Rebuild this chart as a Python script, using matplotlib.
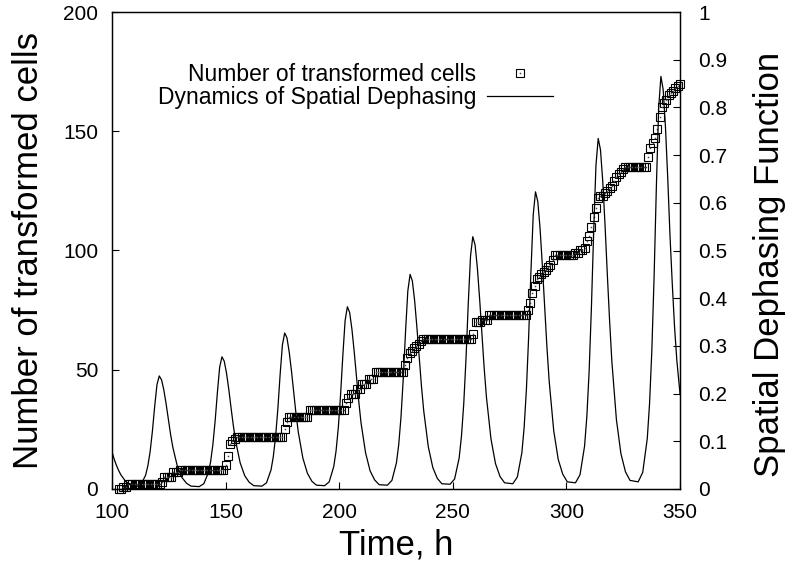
import numpy as np
import matplotlib
matplotlib.use('Agg')
import matplotlib.pyplot as plt
from matplotlib.legend_handler import HandlerTuple

plt.rcParams['font.family'] = ['Liberation Sans', 'DejaVu Sans']

# hourly counts of transformed cells, t = 103 ... 350 h
hours = np.arange(103, 351)
cells = ([0]*2 + [1]*2 + [2]*15 +
         [3] + [5]*4 + [7]*3 + [8]*20 +
         [10, 14, 19, 20, 21] + [22]*21 +
         [25, 28] + [30]*9 + [33]*16 +
         [36, 38, 40, 40, 40, 42, 42, 44, 44, 44, 46, 46, 46] + [49]*13 +
         [52, 55, 57, 58, 59, 60, 61, 62] +
         [63]*22 +
         [65, 70, 70, 70, 71, 71, 71] + [73]*17 +
         [75, 78, 82, 85, 88, 89, 90, 91, 92, 93, 94, 96] + [98]*9 +
         [99, 99, 100, 100, 101, 104, 106, 110, 114, 118, 122, 123, 123,
          124, 125, 126, 127, 129, 131, 132, 133, 134] +
         [135]*10 +
         [139, 143, 145, 147, 151, 156, 160, 162, 163, 165, 166, 167, 168, 169, 170])

# spatial dephasing function (right axis)
phase_t = [100, 101, 102, 103, 104, 106, 108,
           110.8, 112.8, 114.8, 115.8, 116.8, 117.8, 118.8, 119.8, 120.8, 121.8,
           122.8, 123.8, 124.8, 125.8, 126.8, 128.8, 130.8, 132.8, 134.8,
           138.4, 140.4, 142.4, 143.4, 144.4, 145.4, 146.4, 147.4, 148.4, 149.4,
           150.4, 151.4, 152.4, 153.4, 154.4, 156.4, 158.4, 160.4, 162.4,
           166, 168, 170, 171, 172, 173, 174, 175, 176, 177,
           178, 179, 180, 181, 182, 184, 186, 188, 190,
           193.6, 195.6, 197.6, 198.6, 199.6, 200.6, 201.6, 202.6, 203.6, 204.6,
           205.6, 206.6, 207.6, 208.6, 209.6, 211.6, 213.6, 215.6, 217.6,
           221.2, 223.2, 225.2, 226.2, 227.2, 228.2, 229.2, 230.2, 231.2, 232.2,
           233.2, 234.2, 235.2, 236.2, 237.2, 239.2, 241.2, 243.2, 245.2,
           248.8, 250.8, 252.8, 253.8, 254.8, 255.8, 256.8, 257.8, 258.8, 259.8,
           260.8, 261.8, 262.8, 263.8, 264.8, 266.8, 268.8, 270.8, 272.8,
           276.4, 278.4, 280.4, 281.4, 282.4, 283.4, 284.4, 285.4, 286.4, 287.4,
           288.4, 289.4, 290.4, 291.4, 292.4, 294.4, 296.4, 298.4, 300.4,
           304, 306, 308, 309, 310, 311, 312, 313, 314, 315,
           316, 317, 318, 319, 320, 322, 324, 326, 328,
           331.6, 333.6, 335.6, 336.6, 337.6, 338.6, 339.6, 340.6, 341.6, 342.6,
           343.6, 344.6, 345.6, 346.6, 347.6, 348.6, 350]
phase_v = [0.078, 0.062, 0.049, 0.038, 0.029, 0.016, 0.009,
           0.005, 0.010, 0.029, 0.049, 0.079, 0.122, 0.174, 0.219, 0.237, 0.229,
           0.208, 0.179, 0.146, 0.114, 0.087, 0.047, 0.024, 0.012, 0.006,
           0.005, 0.011, 0.034, 0.057, 0.093, 0.143, 0.203, 0.256, 0.277, 0.268,
           0.243, 0.209, 0.170, 0.133, 0.101, 0.055, 0.028, 0.014, 0.007,
           0.006, 0.013, 0.040, 0.068, 0.110, 0.168, 0.240, 0.302, 0.327, 0.317,
           0.287, 0.247, 0.201, 0.157, 0.119, 0.065, 0.033, 0.016, 0.008,
           0.007, 0.015, 0.047, 0.079, 0.128, 0.197, 0.280, 0.353, 0.382, 0.370,
           0.335, 0.288, 0.235, 0.184, 0.139, 0.076, 0.038, 0.019, 0.009,
           0.008, 0.018, 0.055, 0.093, 0.151, 0.232, 0.330, 0.415, 0.450, 0.436,
           0.395, 0.339, 0.276, 0.216, 0.164, 0.089, 0.045, 0.022, 0.011,
           0.010, 0.021, 0.065, 0.110, 0.177, 0.272, 0.388, 0.488, 0.529, 0.512,
           0.464, 0.399, 0.325, 0.254, 0.193, 0.105, 0.053, 0.026, 0.013,
           0.011, 0.025, 0.076, 0.129, 0.209, 0.321, 0.457, 0.575, 0.623, 0.603,
           0.547, 0.470, 0.383, 0.300, 0.227, 0.123, 0.062, 0.031, 0.015,
           0.013, 0.030, 0.090, 0.152, 0.246, 0.379, 0.539, 0.678, 0.735, 0.711,
           0.645, 0.554, 0.451, 0.354, 0.268, 0.146, 0.074, 0.036, 0.018,
           0.015, 0.035, 0.106, 0.179, 0.290, 0.445, 0.634, 0.798, 0.865, 0.837,
           0.759, 0.652, 0.531, 0.430, 0.340, 0.270, 0.200]

fig = plt.figure(figsize=(7.94, 5.67), dpi=100)
ax = fig.add_axes([112/794, 1 - 489/567, 568/794, 477/567])
ax2 = ax.twinx()

sq, = ax.plot(hours, cells, ls='none', marker='s', ms=6, mfc='none',
              mec='k', mew=0.8, clip_on=False)
dot, = ax.plot(hours, cells, ls='none', marker='s', ms=1.1, color='0.3',
               mew=0, clip_on=False)
ln, = ax2.plot(phase_t, phase_v, color='k', lw=0.9)

ax.set_xlim(100, 350)
ax.set_ylim(0, 200)
ax2.set_ylim(0, 1)
ax.set_xticks(range(100, 351, 50))
ax.set_yticks(range(0, 201, 50))
r_ticks = [0, 0.1, 0.2, 0.3, 0.4, 0.5, 0.6, 0.7, 0.8, 0.9, 1]
ax2.set_yticks(r_ticks)
ax2.set_yticklabels(['0', '0.1', '0.2', '0.3', '0.4', '0.5', '0.6', '0.7', '0.8', '0.9', '1'])

ax.tick_params(direction='in', length=5, width=0.8, labelsize=15, pad=10,
               top=False, right=False)
ax2.tick_params(direction='in', length=5, width=0.8, labelsize=15, pad=13)
for a in (ax, ax2):
    for s in a.spines.values():
        s.set_linewidth(0.9)

ax.set_xlabel('Time, h', fontsize=25)
ax.xaxis.set_label_coords(0.5, -0.083)
ax.set_ylabel('Number of transformed cells', fontsize=25)
ax.yaxis.set_label_coords(-0.118, 0.5)
ax2.set_ylabel('Spatial Dephasing Function', fontsize=25)
ax2.yaxis.set_label_coords(1.128, 0.47)

ax2.legend([(sq, dot), ln],
           ['Number of transformed cells', 'Dynamics of Spatial Dephasing'],
           handler_map={tuple: HandlerTuple(ndivide=1)},
           markerfirst=False, frameon=False, fontsize=16.5,
           handlelength=2.9, handletextpad=0.45, labelspacing=0.0,
           loc='upper right', bbox_to_anchor=(553/794, 1 - 63/567),
           bbox_transform=fig.transFigure, borderpad=0, borderaxespad=0)

fig.savefig('out.png', dpi=100)
